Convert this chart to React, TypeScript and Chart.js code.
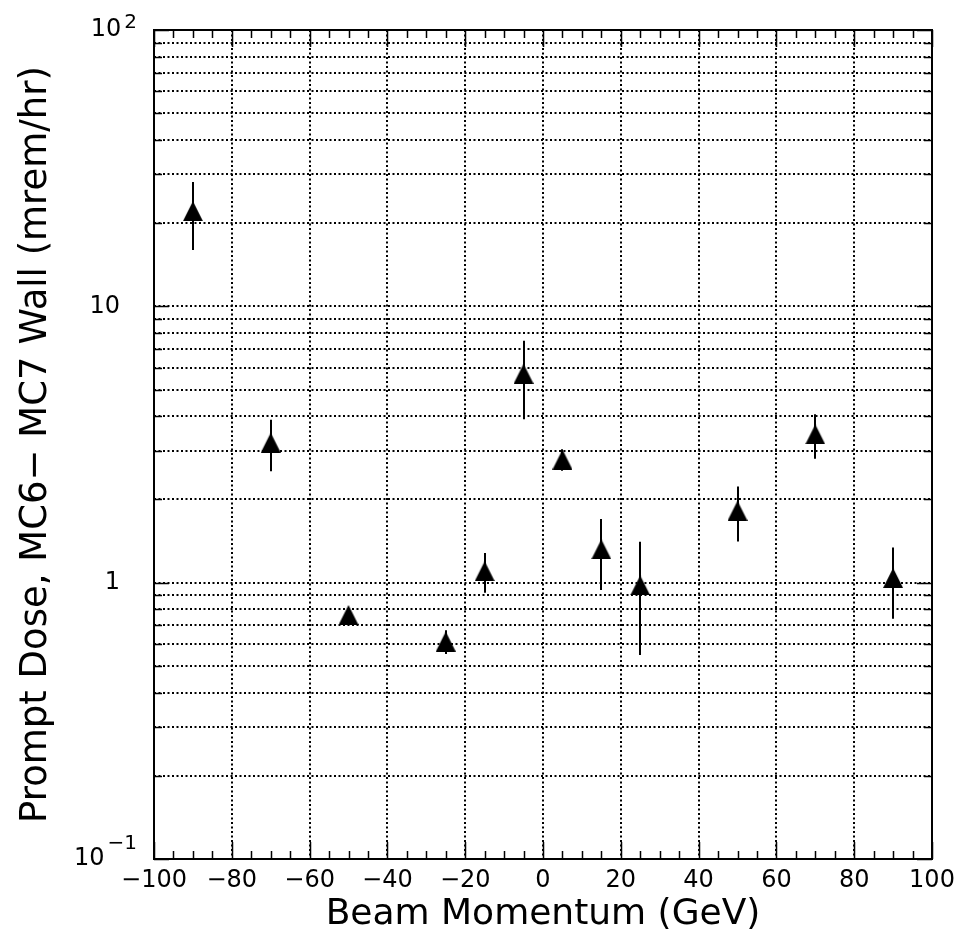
import React, { useEffect, useRef } from "react";
import { Chart, registerables } from "chart.js";

Chart.register(...registerables);

// ---- data ----
const beamMomentum = [-90, -70, -50, -25, -15, -5, 5, 15, 25, 50, 70, 90];
const promptDose = [22.1, 3.21, 0.764, 0.612, 1.1, 5.7, 2.79, 1.32, 0.977, 1.82, 3.44, 1.04];
const doseError = [6.1, 0.68, 0.03, 0.06, 0.18, 1.8, 0.25, 0.38, 0.43, 0.41, 0.63, 0.3];

// ---- axes ----
const xMajorTicks = [-100, -80, -60, -40, -20, 0, 20, 40, 60, 80, 100];
const xMinorTicks = [
  -95, -90, -85, -75, -70, -65, -55, -50, -45, -35, -30, -25, -15, -10, -5,
  5, 10, 15, 25, 30, 35, 45, 50, 55, 65, 70, 75, 85, 90, 95,
];
const yTicks = [
  0.1, 0.2, 0.3, 0.4, 0.5, 0.6, 0.7, 0.8, 0.9,
  1, 2, 3, 4, 5, 6, 7, 8, 9,
  10, 20, 30, 40, 50, 60, 70, 80, 90, 100,
];
const yDecades = [0.1, 1, 10, 100];
const yPlainLabelValues = [10, 1];
const yPlainLabels = ["10", "1"];
const yExpLabelValues = [100, 0.1];
const yExpLabelBase = ["10", "10"];
const yExpLabelPower = ["2", "\u22121"];

const xTitle = "Beam Momentum (GeV)";
const yTitle = "Prompt Dose, MC6\u2212 MC7 Wall (mrem/hr)";

const FONT = "'DejaVu Sans', sans-serif";
const W = 963;
const H = 943;

const fmtX = (v: number) => (v < 0 ? "\u2212" + Math.abs(v) : String(v));

export default function App() {
  const ref = useRef<HTMLCanvasElement | null>(null);

  useEffect(() => {
    const canvas = ref.current;
    if (!canvas) return;

    // filled triangle marker, centered on its bounding box
    const tri = document.createElement("canvas");
    tri.width = 20;
    tri.height = 20;
    const tctx = tri.getContext("2d")!;
    tctx.fillStyle = "#000";
    tctx.beginPath();
    tctx.moveTo(10, 0);
    tctx.lineTo(20, 20);
    tctx.lineTo(0, 20);
    tctx.closePath();
    tctx.fill();

    const errorBars = {
      id: "errorBars",
      beforeDatasetsDraw(chart: any) {
        const { ctx, scales } = chart;
        const xs = scales.x;
        const ys = scales.y;
        ctx.save();
        ctx.strokeStyle = "#000";
        ctx.lineWidth = 2;
        for (let i = 0; i < beamMomentum.length; i++) {
          const px = Math.round(xs.getPixelForValue(beamMomentum[i]));
          const y1 = ys.getPixelForValue(promptDose[i] + doseError[i]);
          const y2 = ys.getPixelForValue(Math.max(promptDose[i] - doseError[i], 0.1));
          ctx.beginPath();
          ctx.moveTo(px, y1);
          ctx.lineTo(px, y2);
          ctx.stroke();
        }
        ctx.restore();
      },
    };

    const frame = {
      id: "frame",
      afterDraw(chart: any) {
        const { ctx, chartArea, scales } = chart;
        const { left, right, top, bottom } = chartArea;
        const xs = scales.x;
        const ys = scales.y;
        ctx.save();
        ctx.strokeStyle = "#000";
        ctx.lineWidth = 1.5;
        ctx.beginPath();
        const allX = [...xMajorTicks, ...xMinorTicks];
        for (const v of allX) {
          const len = xMajorTicks.includes(v) ? 17 : 8;
          const px = Math.round(xs.getPixelForValue(v)) + 0.5;
          ctx.moveTo(px, bottom);
          ctx.lineTo(px, bottom - len);
          ctx.moveTo(px, top);
          ctx.lineTo(px, top + len);
        }
        for (const v of yTicks) {
          const len = yDecades.includes(v) ? 15 : 8;
          const py = Math.round(ys.getPixelForValue(v)) + 0.5;
          ctx.moveTo(left, py);
          ctx.lineTo(left + len, py);
          ctx.moveTo(right, py);
          ctx.lineTo(right - len, py);
        }
        ctx.stroke();
        ctx.lineWidth = 2;
        ctx.strokeRect(left, top, right - left, bottom - top);

        // power-of-ten labels with superscripts
        ctx.fillStyle = "#000";
        ctx.textBaseline = "middle";
        const expOffsets = [-7, -15.5];
        for (let i = 0; i < yExpLabelValues.length; i++) {
          const py = ys.getPixelForValue(yExpLabelValues[i]);
          ctx.font = `20px ${FONT}`;
          ctx.textAlign = "right";
          const ew = ctx.measureText(yExpLabelPower[i]).width;
          ctx.fillText(yExpLabelPower[i], 137, py + expOffsets[i]);
          ctx.font = `24px ${FONT}`;
          ctx.fillText(yExpLabelBase[i], 137 - ew - 3, py);
        }
        ctx.restore();
      },
    };

    const chart = new Chart(canvas, {
      type: "scatter",
      data: {
        datasets: [
          {
            data: beamMomentum.map((x, i) => ({ x, y: promptDose[i] })),
            pointStyle: tri as any,
            pointRadius: 10,
            backgroundColor: "#000",
            borderColor: "#000",
          },
        ],
      },
      options: {
        animation: false,
        responsive: false,
        maintainAspectRatio: false,
        devicePixelRatio: 1,
        layout: { padding: { left: 0, top: 30, right: 31, bottom: 0 } },
        plugins: { legend: { display: false }, tooltip: { enabled: false } },
        scales: {
          x: {
            type: "linear",
            min: -100,
            max: 100,
            afterBuildTicks: (s: any) => {
              s.ticks = [...xMajorTicks, ...xMinorTicks]
                .sort((a, b) => a - b)
                .map((v) => ({ value: v }));
            },
            afterFit: (s: any) => {
              s.height = H - 859;
              s.paddingLeft = 0;
              s.paddingRight = 0;
            },
            ticks: {
              autoSkip: false,
              maxRotation: 0,
              minRotation: 0,
              padding: 7,
              color: "#000",
              font: { family: FONT, size: 24 },
              callback: (v: any) => (xMajorTicks.includes(Number(v)) ? fmtX(Number(v)) : ""),
            },
            grid: {
              drawTicks: false,
              lineWidth: 2,
              color: (c: any) => {
                const v = c.tick ? c.tick.value : NaN;
                return xMajorTicks.includes(v) && v !== -100 && v !== 100 ? "#000" : "rgba(0,0,0,0)";
              },
            },
            border: { display: false, dash: [2, 2.5] },
            title: {
              display: true,
              text: xTitle,
              color: "#000",
              font: { family: FONT, size: 36 },
              padding: { top: 0, bottom: 7 },
            },
          },
          y: {
            type: "logarithmic",
            min: 0.1,
            max: 100,
            afterBuildTicks: (s: any) => {
              s.ticks = yTicks.map((v) => ({ value: v }));
            },
            afterFit: (s: any) => {
              s.width = 154;
              s.paddingTop = 0;
              s.paddingBottom = 0;
            },
            ticks: {
              autoSkip: false,
              padding: 34,
              color: "#000",
              font: { family: FONT, size: 24 },
              callback: (v: any) => {
                const idx = yPlainLabelValues.indexOf(Number(v));
                return idx >= 0 ? yPlainLabels[idx] : "";
              },
            },
            grid: {
              drawTicks: false,
              lineWidth: 2,
              color: (c: any) => {
                const v = c.tick ? c.tick.value : NaN;
                return v === 0.1 || v === 100 ? "rgba(0,0,0,0)" : "#000";
              },
            },
            border: { display: false, dash: [2, 2.5] },
            title: {
              display: true,
              text: yTitle,
              color: "#000",
              font: { family: FONT, size: 37 },
              padding: { top: 14, bottom: 0 },
            },
          },
        },
      },
      plugins: [errorBars, frame],
    });

    return () => chart.destroy();
  }, []);

  return (
    <div style={{ position: "fixed", left: 0, top: 0, width: W, height: H, background: "#fff" }}>
      <canvas ref={ref} width={W} height={H} style={{ width: W, height: H, display: "block" }} />
    </div>
  );
}
